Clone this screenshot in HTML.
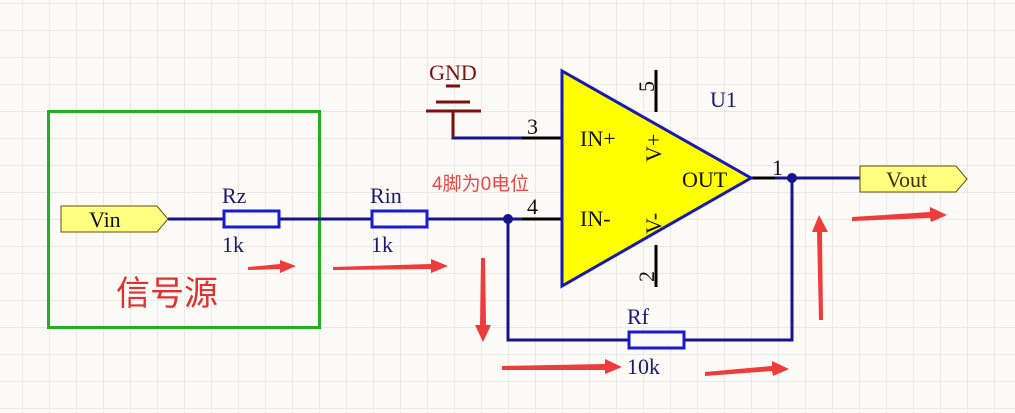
<!DOCTYPE html>
<html><head><meta charset="utf-8"><style>
html,body{margin:0;padding:0;}
body{width:1015px;height:413px;overflow:hidden;background-color:#fbfaf6;
background-image:linear-gradient(to right,#e9e9e6 1px,transparent 1px),linear-gradient(to bottom,#e9e9e6 1px,transparent 1px);
background-size:27px 27px;background-position:22px 3px;}
svg{position:absolute;left:0;top:0;}
</style></head><body>
<svg width="1015" height="413" viewBox="0 0 1015 413" xmlns="http://www.w3.org/2000/svg">
<rect x="48.5" y="111.5" width="271" height="216" fill="none" stroke="#22b022" stroke-width="3"/>
<g stroke="#14148c" stroke-width="3" fill="none">
<line x1="168" y1="219" x2="562" y2="219"/>
<polyline points="508,219 508,340 792,340 792,178"/>
<line x1="751" y1="178" x2="860" y2="178"/>
<polyline points="453,111 453,138 562,138"/>
</g>
<g stroke="#000" stroke-width="3">
<line x1="522" y1="138" x2="562" y2="138"/>
<line x1="522" y1="219" x2="562" y2="219"/>
<line x1="751" y1="178" x2="775" y2="178"/>
<line x1="656" y1="70" x2="656" y2="112"/>
<line x1="656" y1="245" x2="656" y2="287"/>
</g>
<circle cx="508" cy="219" r="5" fill="#14148c"/>
<circle cx="792" cy="178" r="5" fill="#14148c"/>
<g fill="#fbfaf6" stroke="#1a1ad0" stroke-width="3">
<rect x="224" y="211" width="55" height="16"/>
<rect x="372" y="211" width="55" height="16"/>
<rect x="629" y="332" width="55" height="16"/>
</g>
<g stroke="#7a1010" stroke-width="3">
<line x1="446" y1="86" x2="460" y2="86"/>
<line x1="436" y1="102" x2="470" y2="102"/>
<line x1="426" y1="111" x2="481" y2="111"/>
<line x1="453" y1="111" x2="453" y2="138"/>
</g>
<text x="453" y="80" font-family="Liberation Serif,serif" font-size="22" fill="#7a1010" text-anchor="middle">GND</text>
<polygon points="562,71 562,286 751,178" fill="#ffff00" stroke="#1a1ab0" stroke-width="3"/>
<g font-family="Liberation Serif,serif" font-size="22" fill="#111">
<text x="580" y="146">IN+</text>
<text x="580" y="226">IN-</text>
<text x="682" y="187">OUT</text>
<text x="527" y="134">3</text>
<text x="527" y="214">4</text>
<text x="772" y="175">1</text>
<text transform="translate(661,162) rotate(-90)">V+</text>
<text transform="translate(661,234) rotate(-90)">V-</text>
<text transform="translate(654,92) rotate(-90)">5</text>
<text transform="translate(654,282) rotate(-90)">2</text>
</g>
<g font-family="Liberation Serif,serif" font-size="22" fill="#1a1a70">
<text x="710" y="107">U1</text>
<text x="222" y="203">Rz</text>
<text x="222" y="252">1k</text>
<text x="370" y="203">Rin</text>
<text x="371" y="252">1k</text>
<text x="627" y="324">Rf</text>
<text x="627" y="374">10k</text>
</g>
<polygon points="61,206 157,206 168,219 157,232 61,232" fill="#ffff80" stroke="#6b4a10" stroke-width="1"/>
<text x="89" y="227" font-family="Liberation Serif,serif" font-size="22" fill="#111">Vin</text>
<polygon points="860,166 956,166 967,179 956,192 860,192" fill="#ffff80" stroke="#6b4a10" stroke-width="1"/>
<text x="886" y="187" font-family="Liberation Serif,serif" font-size="22" fill="#4a2a08">Vout</text>
<text x="432" y="190" font-family="Liberation Sans,'Noto Sans CJK SC',sans-serif" font-size="19" fill="#e84848">4脚为0电位</text>
<text x="116" y="305" font-family="Liberation Sans,'Noto Sans CJK SC',sans-serif" font-size="34" fill="#e03030">信号源</text>
<g fill="#ee3b3b">
<polygon points="248,267 280,264 280,260 296,266 280,273 280,269 248,270"/>
<polygon points="333,267 431,264 431,259 448,266 431,273 431,269 333,270"/>
<polygon points="481,258 485,258 486,325 491,325 483,342 475,325 480,325"/>
<polygon points="502,366 605,364 605,359 622,367 605,374 605,370 502,370"/>
<polygon points="705,372 772,366 772,361 789,369 773,376 772,371 705,376"/>
<polygon points="819,320 823,320 822,232 828,232 819,215 812,232 817,232"/>
<polygon points="852,217 930,212 930,207 947,215 931,222 930,218 852,221"/>
</g>
</svg>
</body></html>
